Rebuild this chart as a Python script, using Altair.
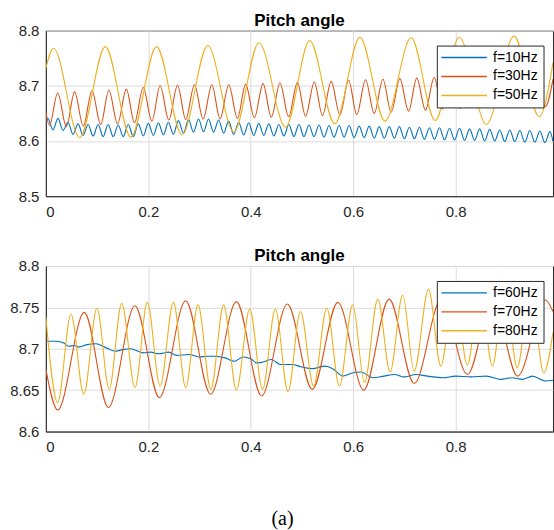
import altair as alt
import pandas as pd

# ---------------- Upper panel: pitch angle for f = 10/30/50 Hz ----------------
# f=10Hz : fast ripple, listed as successive crests and troughs
f10_peak_t = [0.004, 0.0236, 0.0432, 0.0628, 0.0824, 0.102, 0.1216, 0.1412, 0.1608, 0.1804,
              0.200, 0.2196, 0.2392, 0.2588, 0.2784, 0.298, 0.3176, 0.3372, 0.3568, 0.3764,
              0.396, 0.4156, 0.4352, 0.4548, 0.4744, 0.494, 0.5136, 0.5332, 0.5528, 0.5724,
              0.592, 0.6116, 0.6312, 0.6508, 0.6704, 0.690, 0.7096, 0.7292, 0.7488, 0.7684,
              0.788, 0.8076, 0.8272, 0.8468, 0.8664, 0.886, 0.9056, 0.9252, 0.9448, 0.9644, 0.984]
f10_peak_v = [8.641, 8.641, 8.634, 8.631, 8.630, 8.630, 8.630, 8.629, 8.630, 8.631,
              8.632, 8.633, 8.634, 8.637, 8.639, 8.640, 8.640, 8.638, 8.636, 8.634,
              8.633, 8.632, 8.631, 8.630, 8.630, 8.630, 8.629, 8.629, 8.628, 8.628,
              8.628, 8.627, 8.627, 8.626, 8.626, 8.626, 8.625, 8.625, 8.624, 8.624,
              8.623, 8.623, 8.622, 8.622, 8.621, 8.620, 8.620, 8.619, 8.619, 8.618, 8.617]
f10_trough_t = [0.0138, 0.0334, 0.053, 0.0726, 0.0922, 0.1118, 0.1314, 0.151, 0.1706, 0.1902,
                0.2098, 0.2294, 0.249, 0.2686, 0.2882, 0.3078, 0.3274, 0.347, 0.3666, 0.3862,
                0.4058, 0.4254, 0.445, 0.4646, 0.4842, 0.5038, 0.5234, 0.543, 0.5626, 0.5822,
                0.6018, 0.6214, 0.641, 0.6606, 0.6802, 0.6998, 0.7194, 0.739, 0.7586, 0.7782,
                0.7978, 0.8174, 0.837, 0.8566, 0.8762, 0.8958, 0.9154, 0.935, 0.9546, 0.9742]
f10_trough_v = [8.620, 8.619, 8.612, 8.610, 8.609, 8.608, 8.608, 8.608, 8.608, 8.609,
                8.610, 8.611, 8.612, 8.614, 8.616, 8.617, 8.616, 8.614, 8.612, 8.611,
                8.610, 8.610, 8.609, 8.609, 8.608, 8.608, 8.608, 8.607, 8.607, 8.607,
                8.606, 8.606, 8.605, 8.605, 8.605, 8.604, 8.604, 8.603, 8.603, 8.602,
                8.602, 8.601, 8.601, 8.600, 8.600, 8.599, 8.599, 8.598, 8.598, 8.597]
f10_ends_t = [0.0, 0.99]
f10_ends_v = [8.636, 8.599]

# f=30Hz
f30_peak_t = [0.023, 0.056, 0.090, 0.123, 0.157, 0.190, 0.223, 0.257, 0.290, 0.324,
              0.357, 0.390, 0.424, 0.457, 0.491, 0.524, 0.557, 0.591, 0.624, 0.658,
              0.691, 0.724, 0.758, 0.791, 0.825, 0.858, 0.891, 0.925, 0.958]
f30_peak_v = [8.687, 8.689, 8.691, 8.692, 8.694, 8.697, 8.700, 8.701, 8.702, 8.702,
              8.702, 8.703, 8.704, 8.705, 8.706, 8.707, 8.708, 8.710, 8.711, 8.712,
              8.713, 8.714, 8.715, 8.716, 8.716, 8.717, 8.717, 8.718, 8.718]
f30_trough_t = [0.007, 0.040, 0.073, 0.107, 0.140, 0.173, 0.207, 0.240, 0.273, 0.307,
                0.340, 0.374, 0.407, 0.440, 0.474, 0.507, 0.540, 0.574, 0.607, 0.641,
                0.674, 0.708, 0.741, 0.774, 0.808, 0.841, 0.875, 0.908, 0.941, 0.975]
f30_trough_v = [8.628, 8.626, 8.627, 8.630, 8.631, 8.633, 8.636, 8.638, 8.639, 8.640,
                8.640, 8.641, 8.642, 8.643, 8.644, 8.645, 8.646, 8.647, 8.648, 8.650,
                8.652, 8.654, 8.656, 8.658, 8.659, 8.660, 8.661, 8.661, 8.662, 8.662]
f30_ends_t = [0.0, 0.99]
f30_ends_v = [8.653, 8.712]

# f=50Hz
f50_t = [0.000, 0.015, 0.066, 0.116, 0.166, 0.216, 0.266, 0.316, 0.367, 0.416,
         0.468, 0.515, 0.564, 0.613, 0.662, 0.713, 0.760, 0.807, 0.860, 0.914, 0.963, 0.990]
f50_v = [8.732, 8.768, 8.606, 8.771, 8.607, 8.771, 8.611, 8.773, 8.616, 8.778,
         8.625, 8.782, 8.631, 8.788, 8.636, 8.787, 8.637, 8.788, 8.630, 8.790, 8.644, 8.742]

# ---------------- Lower panel: pitch angle for f = 60/70/80 Hz ----------------
f60_t = [0.000, 0.020, 0.035, 0.045, 0.055, 0.065, 0.080, 0.098, 0.115, 0.135,
         0.150, 0.165, 0.190, 0.205, 0.220, 0.240, 0.255, 0.280, 0.300, 0.315,
         0.330, 0.350, 0.368, 0.385, 0.400, 0.411, 0.425, 0.440, 0.458, 0.480,
         0.500, 0.520, 0.545, 0.560, 0.580, 0.600, 0.615, 0.638, 0.660, 0.680,
         0.700, 0.722, 0.745, 0.775, 0.800, 0.830, 0.860, 0.888, 0.910, 0.930,
         0.950, 0.975, 0.990]
f60_v = [8.709, 8.709, 8.707, 8.703, 8.704, 8.702, 8.705, 8.706, 8.702, 8.697,
         8.699, 8.700, 8.695, 8.696, 8.694, 8.696, 8.692, 8.693, 8.690, 8.691,
         8.691, 8.689, 8.685, 8.690, 8.688, 8.683, 8.684, 8.687, 8.681, 8.681,
         8.678, 8.676, 8.679, 8.676, 8.667, 8.671, 8.672, 8.665, 8.667, 8.669,
         8.666, 8.669, 8.667, 8.665, 8.667, 8.666, 8.667, 8.663, 8.665, 8.663,
         8.667, 8.661, 8.662]

f70_t = [0.000, 0.023, 0.075, 0.122, 0.174, 0.2215, 0.273, 0.3215, 0.372, 0.421,
         0.4714, 0.520, 0.570, 0.6205, 0.670, 0.719, 0.772, 0.823, 0.872, 0.921, 0.975, 0.990]
f70_v = [8.675, 8.626, 8.744, 8.629, 8.752, 8.641, 8.758, 8.645, 8.757, 8.643,
         8.754, 8.651, 8.756, 8.650, 8.760, 8.658, 8.760, 8.669, 8.760, 8.667, 8.759, 8.745]

f80_t = [0.000, 0.023, 0.049, 0.074, 0.0997, 0.1236, 0.148, 0.174, 0.198, 0.223,
         0.249, 0.273, 0.297, 0.322, 0.347, 0.372, 0.398, 0.423, 0.448, 0.4726,
         0.497, 0.5226, 0.5485, 0.573, 0.599, 0.622, 0.648, 0.672, 0.6965, 0.719,
         0.747, 0.771, 0.797, 0.823, 0.847, 0.8717, 0.896, 0.920, 0.946, 0.972, 0.990]
f80_v = [8.738, 8.635, 8.742, 8.645, 8.749, 8.651, 8.755, 8.653, 8.756, 8.655,
         8.756, 8.653, 8.753, 8.651, 8.753, 8.650, 8.748, 8.651, 8.748, 8.648,
         8.745, 8.655, 8.749, 8.655, 8.753, 8.659, 8.760, 8.672, 8.765, 8.673,
         8.772, 8.679, 8.775, 8.680, 8.775, 8.679, 8.775, 8.677, 8.773, 8.671, 8.720]

TOP_NAMES = ["f=10Hz", "f=30Hz", "f=50Hz"]
BOT_NAMES = ["f=60Hz", "f=70Hz", "f=80Hz"]
COLORS = ["#0072BD", "#D95319", "#EDB120"]
X_TICKS = [0, 0.2, 0.4, 0.6, 0.8]
TOP_Y_TICKS = [8.5, 8.6, 8.7, 8.8]
BOT_Y_TICKS = [8.6, 8.65, 8.7, 8.75, 8.8]


def series(name, ts, vs):
    return pd.DataFrame({"t": ts, "v": vs, "series": name})


top_df = pd.concat([
    series("f=10Hz", f10_peak_t + f10_trough_t + f10_ends_t, f10_peak_v + f10_trough_v + f10_ends_v),
    series("f=30Hz", f30_peak_t + f30_trough_t + f30_ends_t, f30_peak_v + f30_trough_v + f30_ends_v),
    series("f=50Hz", f50_t, f50_v),
], ignore_index=True)

bot_df = pd.concat([
    series("f=60Hz", f60_t, f60_v),
    series("f=70Hz", f70_t, f70_v),
    series("f=80Hz", f80_t, f80_v),
], ignore_index=True)

FONT = "Liberation Sans"
AXIS_GREY = "#262626"
W, H = 508.5, 166


def legend_box():
    return alt.Legend(
        title=None, direction="vertical", orient="none", legendX=392, legendY=15,
        symbolType="M-3.8,0L3.8,0", symbolSize=144,
        symbolStrokeWidth=1.4, symbolOffset=15.4, labelOffset=22,
        labelFont=FONT, labelFontSize=14, labelColor="#000000",
        labelLimit=200, padding=5, rowPadding=5,
        strokeColor=AXIS_GREY, fillColor="white", cornerRadius=0)


def panel(df, names, yticks, ydomain):
    return alt.Chart(df).mark_line(strokeWidth=1.1, interpolate="monotone", clip=True).encode(
        x=alt.X("t:Q", title=None,
                scale=alt.Scale(domain=[0, 0.99], nice=False, zero=False),
                axis=alt.Axis(values=X_TICKS, format="~g", labelPadding=8)),
        y=alt.Y("v:Q", title=None,
                scale=alt.Scale(domain=ydomain, nice=False, zero=False),
                axis=alt.Axis(values=yticks, format="~g", labelPadding=7,
                              minExtent=40, maxExtent=40)),
        color=alt.Color("series:N", scale=alt.Scale(domain=names, range=COLORS),
                        legend=legend_box()),
        order=alt.Order("t:Q"),
    ).properties(
        width=W, height=H,
        title=alt.TitleParams("Pitch angle", font=FONT, fontSize=17, fontWeight="bold",
                              color="#000000", anchor="middle", baseline="bottom",
                              offset=-23),
    )


top = panel(top_df, TOP_NAMES, TOP_Y_TICKS, [8.5, 8.8])
bottom = panel(bot_df, BOT_NAMES, BOT_Y_TICKS, [8.6, 8.8])

chart = alt.vconcat(top, bottom, spacing=26).resolve_scale(
    color="independent"
).resolve_legend(
    color="independent"
).properties(
    background="white",
    padding={"left": 5, "top": 10, "right": 0, "bottom": 0},
    title=alt.TitleParams("(a)", orient="bottom", anchor="middle", font="Liberation Serif",
                          fontSize=20, fontWeight="normal", color="#000000",
                          baseline="top", offset=54, dx=3),
).configure_view(
    stroke=AXIS_GREY, strokeWidth=1
).configure_axis(
    labelFont=FONT, labelFontSize=15, labelColor=AXIS_GREY,
    domainColor=AXIS_GREY, domainWidth=1, ticks=False,
    gridColor="#dcdcdc", gridWidth=1
)

chart.save("out.html", embed_options={"renderer": "svg", "actions": False})
